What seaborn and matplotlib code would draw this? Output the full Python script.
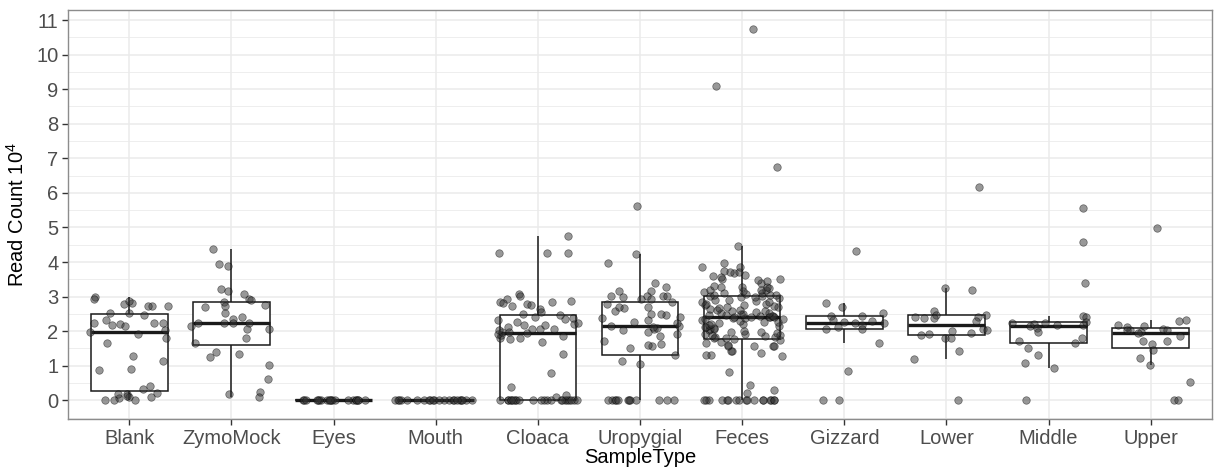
import numpy as np
import pandas as pd
import matplotlib
matplotlib.use("Agg")
import matplotlib.pyplot as plt
from matplotlib.ticker import MultipleLocator
import seaborn as sns

# Sample types in display order
categories = ["Blank", "ZymoMock", "Eyes", "Mouth", "Cloaca", "Uropygial",
              "Feces", "Gizzard", "Lower", "Middle", "Upper"]

# Read counts per sample (units of 10^4 reads)
blank = [2.99, 2.74, 2.80, 2.72, 2.74, 2.82, 2.86, 2.94, 2.54, 2.52, 2.48, 2.24,
         2.21, 2.24, 2.18, 2.25, 2.33, 2.16, 2.04, 1.98, 1.92, 1.80, 1.65, 1.27,
         1.15, 0.87, 0.92, 0.42, 0.33, 0.17, 0.01, 0.11, 0.07, 0.13, 0.17, 0.21,
         0.11, 0.0, 0.0]
zymomock = [4.37, 3.89, 3.94, 3.09, 3.22, 3.17, 2.92, 2.83, 2.77, 2.69, 2.89,
            2.74, 2.52, 2.42, 2.36, 2.23, 2.14, 2.24, 2.25, 2.25, 2.05, 2.05,
            1.80, 1.67, 1.41, 1.35, 1.24, 1.03, 0.62, 0.24, 0.19, 0.10]
eyes = [0.0] * 20
mouth = [0.0] * 22
cloaca = [0.0] * 22 + [
    0.10, 0.15, 0.40, 0.79, 1.34, 1.69, 1.78, 1.79, 1.79, 1.85, 1.90, 1.92,
    1.96,
    1.97, 1.99, 2.04, 2.06, 2.07, 2.07, 2.12, 2.17, 2.17, 2.22, 2.23, 2.28,
    2.33, 2.36, 2.38, 2.41,
    2.46,
    4.75, 4.25, 4.25, 4.25, 3.07, 3.02, 2.94, 2.86, 2.83, 2.83, 2.81, 2.78,
    2.76, 2.72, 2.65, 2.56, 2.50]
uropygial = [0.0] * 12 + [
    1.13, 1.04, 1.31,
    1.51, 1.58, 1.61, 1.62, 1.71, 1.87, 1.92, 1.99, 2.02, 2.07, 2.09, 2.12, 2.14,
    2.16,
    2.24, 2.28, 2.31, 2.38, 2.40, 2.46, 2.51, 2.51, 2.57, 2.66, 2.69, 2.71, 2.78,
    2.84,
    5.62, 4.22, 3.96, 3.39, 3.29, 3.15, 3.15, 3.03, 3.02, 3.01, 3.01, 3.00,
    2.93, 2.93]
feces = [0.0] * 17 + [
    0.22, 0.30, 0.44, 0.82, 1.28, 1.32, 1.32, 1.37, 1.42, 1.44, 1.56, 1.56,
    1.58, 1.58, 1.61, 1.66, 1.70, 1.74,
    1.78,
    1.79, 1.80, 1.82, 1.84, 1.86, 1.88, 1.90, 1.91, 1.93, 1.95, 1.97, 1.98,
    2.00, 2.03, 2.05, 2.07, 2.10, 2.11, 2.13, 2.15, 2.18, 2.20, 2.22, 2.24,
    2.27, 2.28, 2.30, 2.33, 2.35, 2.36, 2.38, 2.39, 2.40, 2.40,
    2.41,
    2.42, 2.42, 2.43, 2.44, 2.45, 2.47, 2.48, 2.49, 2.51, 2.52, 2.54, 2.55,
    2.57, 2.58, 2.61, 2.62, 2.64, 2.66, 2.69, 2.70, 2.73, 2.76, 2.77, 2.79,
    2.80, 2.84, 2.85, 2.87, 2.90, 2.91, 2.95, 2.98, 2.98, 3.01,
    3.03,
    3.04, 3.05, 3.06, 3.08, 3.10, 3.10, 3.12, 3.15, 3.18, 3.20, 3.20, 3.24,
    3.27, 3.29, 3.29, 3.32, 3.38, 3.45, 3.48, 3.50, 3.52, 3.57, 3.60, 3.63,
    3.68, 3.70, 3.72, 3.75, 3.86, 3.87, 3.96, 4.46, 6.74, 9.09, 10.73]
gizzard = [4.32, 2.82, 2.69, 2.54, 2.43, 2.43, 2.29, 2.32, 2.25, 2.25, 2.27,
           2.17, 2.11, 2.06, 2.05, 1.67, 0.84, 0.0, 0.0]
lower = [6.16, 3.20, 3.25, 2.57, 2.48, 2.48, 2.40, 2.40, 2.30, 2.38, 2.38,
         2.00, 1.95, 2.05, 2.02, 1.93, 1.89, 1.81, 1.80, 1.44, 1.20, 0.0]
middle = [5.57, 4.58, 3.40, 2.43, 2.41, 2.23, 2.17, 2.14, 2.21, 2.24, 2.27,
          2.19, 2.09, 1.97, 1.80, 1.66, 1.71, 1.52, 1.31, 1.07, 0.94, 0.0]
upper = [4.99, 2.32, 2.30, 2.18, 2.12, 2.15, 2.05, 1.98, 2.02, 1.94, 2.03,
         1.85, 2.02, 1.71, 1.71, 1.63, 1.47, 1.22, 1.02, 0.53, 0.0, 0.0]

y_ticks = list(range(0, 12))

series = [blank, zymomock, eyes, mouth, cloaca, uropygial, feces,
          gizzard, lower, middle, upper]
df = pd.DataFrame({
    "SampleType": np.repeat(categories, [len(s) for s in series]),
    "ReadCount": np.concatenate(series),
})

sns.set_theme(style="white")
plt.rcParams["font.family"] = ["Liberation Sans", "DejaVu Sans"]
plt.rcParams["mathtext.fontset"] = "custom"
plt.rcParams["mathtext.rm"] = "Liberation Sans"
plt.rcParams["mathtext.default"] = "regular"

fig = plt.figure(figsize=(12.19, 4.68), dpi=100)
ax = fig.add_axes([0.0558, 0.1047, 0.9385, 0.8739])

sns.boxplot(data=df, x="SampleType", y="ReadCount", order=categories,
            width=0.75, color="white", linecolor="#1a1a1a", linewidth=1.1,
            showfliers=False, showcaps=False, whis=1.5,
            medianprops={"linewidth": 2.4, "color": "#1a1a1a"}, ax=ax)

np.random.seed(7)
sns.stripplot(data=df, x="SampleType", y="ReadCount", order=categories,
              jitter=0.4, color="#333333", alpha=0.5, size=5.4,
              linewidth=0.5, edgecolor="black", ax=ax)
for coll in ax.collections:
    coll.set_zorder(4)

ax.set_xlim(-0.6, len(categories) - 0.4)
ax.set_ylim(-0.54, 11.29)
ax.set_yticks(y_ticks)
ax.yaxis.set_minor_locator(MultipleLocator(0.5))

ax.set_axisbelow(True)
ax.grid(which="major", color="#ebebeb", linewidth=1.1)
ax.grid(which="minor", axis="y", color="#ebebeb", linewidth=0.6)
ax.set_facecolor("white")
for sp in ax.spines.values():
    sp.set_color("#8c8c8c")
    sp.set_linewidth(1.0)

ax.tick_params(axis="both", which="major", length=4, width=1.0,
               color="#333333", labelcolor="#4d4d4d", labelsize=14.5, pad=3,
               bottom=True, left=True)
ax.tick_params(axis="both", which="minor", length=0)

ax.set_xlabel("SampleType", fontsize=14.5, color="black", labelpad=0)
ax.set_ylabel("Read Count $10^4$", fontsize=14.5, color="black", labelpad=6)

fig.savefig("out.png", dpi=100, facecolor="white")
